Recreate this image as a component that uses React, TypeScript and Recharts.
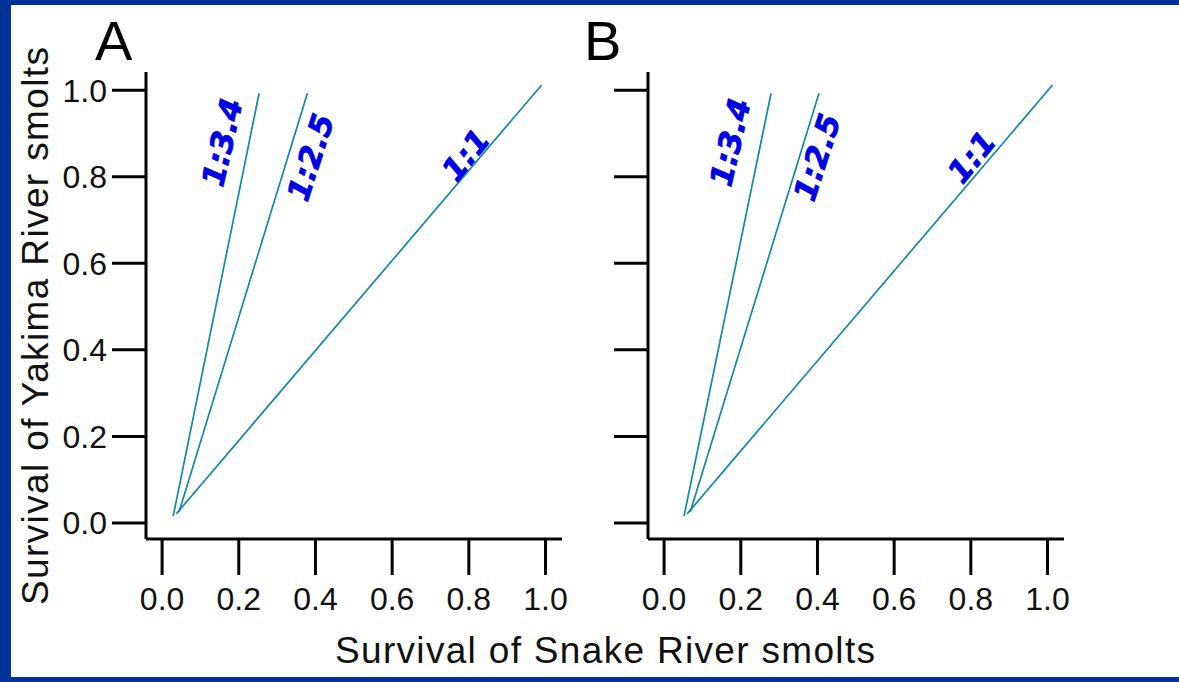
import React from 'react';
import { LineChart, Line, XAxis, YAxis, LabelList } from 'recharts';

// axis ticks shared by both panels
const ticks = [0, 0.2, 0.4, 0.6, 0.8, 1.0];

// panel A ratio lines (Snake survival x, Yakima survival y)
const lineA34 = [{ x: 0.029, y: 0.016 }, { x: 0.253, y: 0.993 }];
const lineA25 = [{ x: 0.044, y: 0.025 }, { x: 0.379, y: 0.993 }];
const lineA11 = [{ x: 0.037, y: 0.021 }, { x: 0.990, y: 1.012 }];

// panel B ratio lines
const lineB34 = [{ x: 0.052, y: 0.016 }, { x: 0.279, y: 0.993 }];
const lineB25 = [{ x: 0.068, y: 0.025 }, { x: 0.404, y: 0.993 }];
const lineB11 = [{ x: 0.060, y: 0.021 }, { x: 1.013, y: 1.012 }];

const ratioNames = ['1:3.4', '1:2.5', '1:1'];

const LINE_COLOR = '#1487a8';
const LABEL_COLOR = '#0000e6';
const FONT = '"Liberation Sans", Arial, sans-serif';

const ratioLabel = (text: string, dx: number, dy: number, angle: number) => (props: any) => {
  const { x, y, index } = props;
  if (index !== 1) return null;
  const cx = x + dx;
  const cy = y + dy;
  return (
    <text
      x={cx}
      y={cy}
      transform={`rotate(${angle} ${cx} ${cy})`}
      textAnchor="middle"
      dominantBaseline="central"
      fill={LABEL_COLOR}
      stroke={LABEL_COLOR}
      strokeWidth={0.8}
      fontFamily='"DejaVu Sans", Verdana, sans-serif'
      fontWeight="bold"
      fontStyle="italic"
      fontSize={31}
    >
      {text}
    </text>
  );
};

interface PanelProps {
  left: number;
  lines: { x: number; y: number }[][];
  showYLabels: boolean;
  labelPos: [number, number, number][];
}

const axisStyle = { stroke: '#000', strokeWidth: 3 };

const Panel: React.FC<PanelProps> = ({ left, lines, showYLabels, labelPos }) => (
  <div style={{ position: 'absolute', left, top: 0 }}>
    <LineChart width={600} height={682} margin={{ top: 72, right: 38, bottom: 43, left: 46 }}>
      <XAxis
        type="number"
        dataKey="x"
        domain={[-0.042, 1.043]}
        allowDataOverflow
        ticks={ticks}
        tickFormatter={(v: number) => v.toFixed(1)}
        tickSize={36}
        tickMargin={12}
        height={100}
        axisLine={axisStyle}
        tickLine={axisStyle}
        tick={{ fontSize: 32, fill: '#111', fontFamily: FONT }}
      />
      <YAxis
        type="number"
        dataKey="y"
        domain={[-0.037, 1.042]}
        allowDataOverflow
        ticks={ticks}
        tickFormatter={(v: number) => (showYLabels ? v.toFixed(1) : '')}
        tickSize={34}
        tickMargin={5}
        width={100}
        axisLine={axisStyle}
        tickLine={axisStyle}
        tick={{ fontSize: 32, fill: '#111', fontFamily: FONT }}
      />
      {lines.map((d, i) => (
        <Line
          key={ratioNames[i]}
          data={d}
          dataKey="y"
          stroke={LINE_COLOR}
          strokeWidth={1.7}
          dot={false}
          isAnimationActive={false}
        >
          <LabelList
            dataKey="y"
            content={ratioLabel(ratioNames[i], labelPos[i][0], labelPos[i][1], labelPos[i][2])}
          />
        </Line>
      ))}
    </LineChart>
  </div>
);

export default function App() {
  return (
    <div
      style={{
        position: 'absolute',
        left: 0,
        top: 0,
        width: 1179,
        height: 682,
        background: '#003399',
        fontFamily: FONT,
        overflow: 'hidden',
      }}
    >
      <div style={{ position: 'absolute', left: 11, top: 5, right: 0, bottom: 5, background: '#fff' }} />
      <Panel
        left={0}
        lines={[lineA34, lineA25, lineA11]}
        showYLabels
        labelPos={[[-37, 49, -77], [3, 64, -72], [-76, 70, -51]]}
      />
      <Panel
        left={502}
        lines={[lineB34, lineB25, lineB11]}
        showYLabels={false}
        labelPos={[[-41, 49, -77], [-2, 64, -72], [-81, 72, -51]]}
      />
      <svg
        width={1179}
        height={682}
        style={{ position: 'absolute', left: 0, top: 0, pointerEvents: 'none' }}
      >
        <text x={95} y={60} fontSize={56} fill="#000" fontFamily={FONT}>A</text>
        <text x={584} y={60} fontSize={56} fill="#000" fontFamily={FONT}>B</text>
        <text
          x={605}
          y={663}
          fontSize={37}
          fill="#111"
          fontFamily={FONT}
          textAnchor="middle"
          textLength={540}
          lengthAdjust="spacing"
        >
          Survival of Snake River smolts
        </text>
        <text
          x={0}
          y={0}
          transform="translate(48 326) rotate(-90)"
          fontSize={37}
          fill="#111"
          fontFamily={FONT}
          textAnchor="middle"
          textLength={558}
          lengthAdjust="spacing"
        >
          Survival of Yakima River smolts
        </text>
      </svg>
    </div>
  );
}
